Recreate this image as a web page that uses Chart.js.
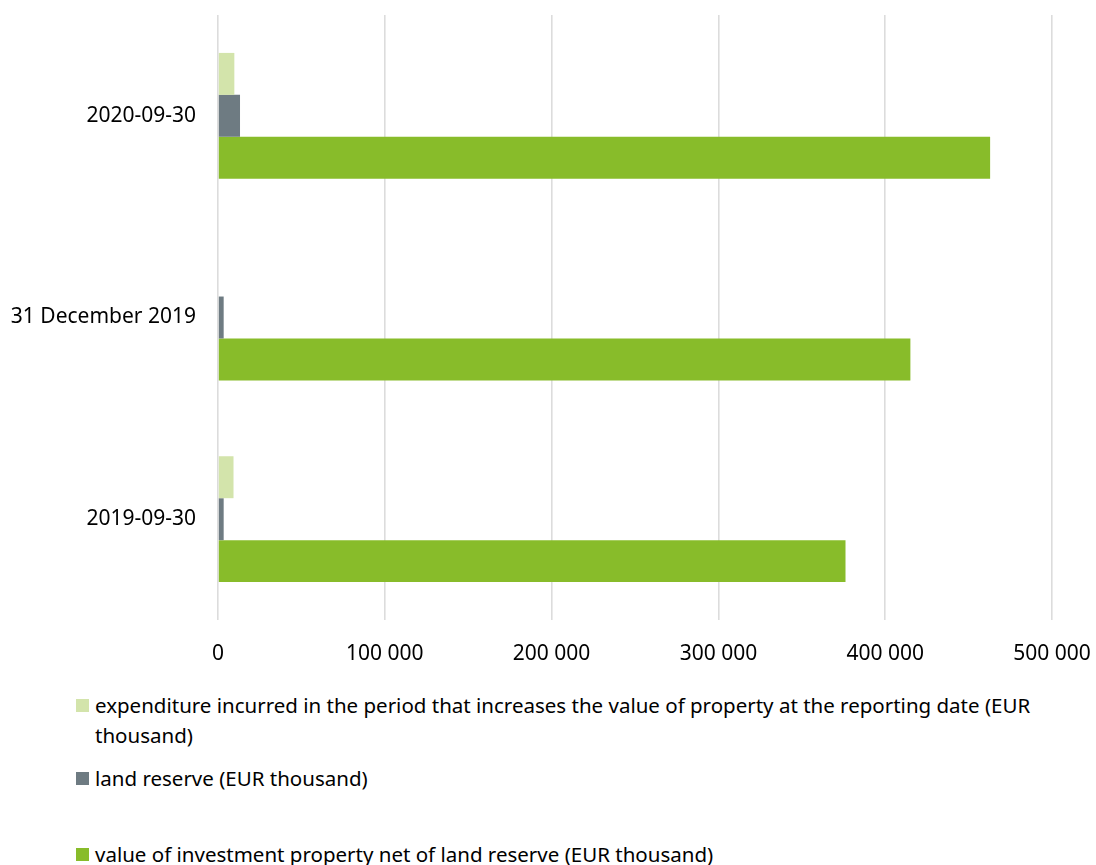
<!DOCTYPE html>
<html>
<head>
<meta charset="utf-8">
<script src="https://cdn.jsdelivr.net/npm/chart.js@4/dist/chart.umd.min.js"></script>
<style>
    body { margin: 0; background: #fff; font-family: "Noto Sans", sans-serif; }
    #wrap { position: relative; width: 1096px; height: 680px; }
    #legend { position: absolute; left: 76px; top: 690px; width: 1000px; font-size: 20.5px; color: #000; }
    .item { display: flex; align-items: flex-start; line-height: 30px; }
    .box { width: 13px; height: 13px; margin-top: 9px; margin-right: 6px; flex: none; }
    .txt { width: 945px; }
</style>
</head>
<body>
<div id="wrap"><canvas id="chart"></canvas></div>
<div id="legend"></div>
<script>
const categories = ['2020-09-30', '31 December 2019', '2019-09-30']
const expenditure = [9800, 0, 9300]
const landReserve = [13200, 3400, 3400]
const propertyValue = [462900, 415100, 376200]
const seriesNames = [
    'expenditure incurred in the period that increases the value of property at the reporting date (EUR thousand)',
    'land reserve (EUR thousand)',
    'value of investment property net of land reserve (EUR thousand)'
]
const colors = ['#d3e4ab', '#6e7b82', '#88bc2a']
const legendGaps = [0, 13, 46]

const fmt = v => String(v).replace(/\B(?=(\d{3})+(?!\d))/g, ' ')
const fontFamily = '"Noto Sans", sans-serif'

const ctx = document.getElementById('chart')
const chart = new Chart(ctx, {
    type: 'bar',
    data: {
        labels: categories,
        datasets: [expenditure, landReserve, propertyValue].map((d, i) => ({
            label: seriesNames[i],
            data: d,
            backgroundColor: colors[i],
            barPercentage: 1,
            categoryPercentage: 0.624
        }))
    },
    options: {
        indexAxis: 'y',
        animation: false,
        responsive: true,
        maintainAspectRatio: false,
        layout: { padding: { top: 15, right: 44, left: 0, bottom: 0 } },
        plugins: {
            legend: { display: false },
            tooltip: { enabled: false }
        },
        scales: {
            x: {
                min: 0,
                max: 500000,
                ticks: {
                    stepSize: 100000,
                    color: '#000',
                    padding: 21,
                    font: { family: fontFamily, size: 21 },
                    callback: v => fmt(v)
                },
                grid: { color: '#dcdcdc', lineWidth: 1.6, drawTicks: false },
                border: { display: false },
                afterFit: s => {
                    s.height = 60
                    s.paddingLeft = 0
                    s.paddingRight = 0
                }
            },
            y: {
                ticks: {
                    color: '#000',
                    padding: 22,
                    font: { family: fontFamily, size: 21 }
                },
                grid: { display: false, drawTicks: false },
                border: { display: false },
                afterFit: s => {
                    s.width = 218
                    s.paddingTop = 0
                    s.paddingBottom = 0
                }
            }
        }
    }
})

// legend below the chart, one entry per line like the original
const legend = document.getElementById('legend')
chart.data.datasets.forEach((ds, i) => {
    const row = document.createElement('div')
    row.className = 'item'
    row.style.marginTop = legendGaps[i] + 'px'
    row.innerHTML = '<span class="box" style="background:' + ds.backgroundColor + '"></span><span class="txt">' + ds.label + '</span>'
    legend.appendChild(row)
})
</script>
</body>
</html>
